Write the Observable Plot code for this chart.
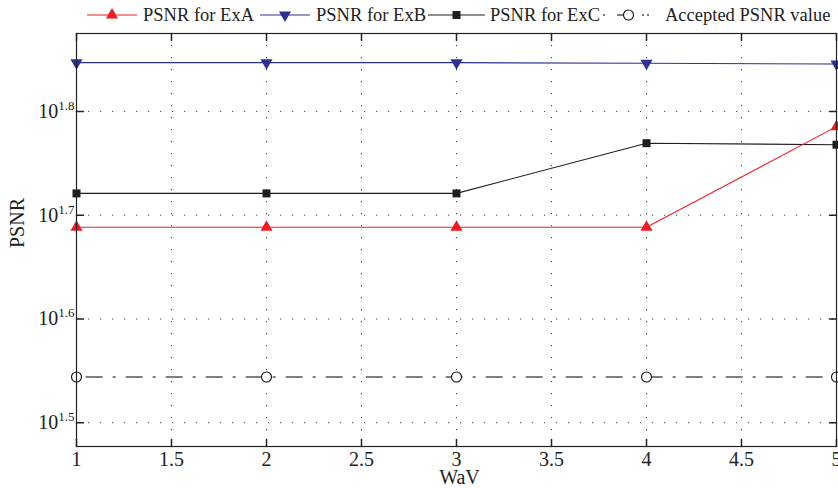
<!DOCTYPE html>
<html><head><meta charset="utf-8">
<script src="https://cdn.jsdelivr.net/npm/d3@7"></script>
<script src="https://cdn.jsdelivr.net/npm/@observablehq/plot@0.6"></script>
<style>
body{margin:0;background:#fff;}
#wrap{position:relative;width:838px;height:488px;font-family:"Liberation Serif","Times New Roman",serif;}
</style></head><body><div id="wrap"></div>
<script>
// ---- data ----
const wav = [1, 2, 3, 4, 5];
const psnrExA = [48.8, 48.8, 48.8, 48.8, 61.0];
const psnrExB = [70.3, 70.3, 70.3, 70.2, 70.1];
const psnrExC = [52.6, 52.6, 52.6, 58.8, 58.6];
const acceptedPSNR = [35, 35, 35, 35, 35];
const seriesNames = ["PSNR for ExA", "PSNR for ExB", "PSNR for ExC", "Accepted PSNR value"];
const xTicks = [1, 1.5, 2, 2.5, 3, 3.5, 4, 4.5, 5];
const yTickExponents = [1.5, 1.6, 1.7, 1.8];
const yDomain = [30, 75];
const xLabel = "WaV";
const yLabel = "PSNR";

// ---- build ----
const yTicks = yTickExponents.map(e => Math.pow(10, e));
const rows = arr => wav.map((w, i) => ({w, v: arr[i]}));
const tickShape = {draw(ctx, l) { ctx.moveTo(0, 0); ctx.lineTo(0, -l); }};
const red = "#ed1c24", blue = "#2e3192", blk = "#1e1e1e", gry = "#555";
const gridStyle = {stroke: "#000", strokeOpacity: 0.75, strokeDasharray: "1.2,10.8", strokeWidth: 1};

const plot = Plot.plot({
  width: 838, height: 488,
  marginLeft: 76, marginRight: 2, marginTop: 33, marginBottom: 42,
  style: {fontFamily: "'Liberation Serif','Times New Roman',serif", fontSize: "20px", color: "#222", background: "#fff"},
  x: {domain: [1, 5], label: null},
  y: {type: "log", domain: yDomain, label: null},
  marks: [
    Plot.gridX(xTicks.slice(1, -1), gridStyle),
    Plot.gridY(yTicks, gridStyle),
    Plot.vector(xTicks, {x: d => d, frameAnchor: "bottom", length: 7, rotate: 0, anchor: "start", shape: tickShape, stroke: "#222"}),
    Plot.vector(xTicks, {x: d => d, frameAnchor: "top", length: 7, rotate: 180, anchor: "start", shape: tickShape, stroke: "#222"}),
    Plot.vector(yTicks, {y: d => d, frameAnchor: "left", length: 7, rotate: 90, anchor: "start", shape: tickShape, stroke: "#222"}),
    Plot.vector(yTicks, {y: d => d, frameAnchor: "right", length: 7, rotate: -90, anchor: "start", shape: tickShape, stroke: "#222"}),
    Plot.axisX(xTicks, {tickSize: 0, tickPadding: 5, fontSize: 20, tickFormat: d => String(d)}),
    Plot.axisY(yTicks, {tickSize: 0, tickPadding: 2, fontSize: 20, tickFormat: d => Math.log10(d).toFixed(1)}),
    Plot.text([xLabel], {frameAnchor: "bottom", dx: 3, dy: 37, fontSize: 20, fill: "#222"}),
    Plot.text([yLabel], {frameAnchor: "left", dx: -58.5, dy: 8, rotate: -90, fontSize: 20, fill: "#222"}),
    Plot.line(rows(acceptedPSNR), {x: "w", y: "v", stroke: gry, strokeWidth: 1.4, strokeDasharray: "16,11,2,11", strokeDashoffset: 30.3}),
    Plot.line(rows(psnrExC), {x: "w", y: "v", stroke: blk, strokeWidth: 1.1}),
    Plot.line(rows(psnrExA), {x: "w", y: "v", stroke: red, strokeWidth: 1.1}),
    Plot.line(rows(psnrExB), {x: "w", y: "v", stroke: blue, strokeWidth: 1.1}),
    Plot.dot(rows(acceptedPSNR), {x: "w", y: "v", r: 5, stroke: "#111", fill: "#fff", strokeWidth: 1.1}),
    Plot.dot(rows(psnrExC), {x: "w", y: "v", r: 4.5, symbol: "square", fill: blk, stroke: "none"}),
    Plot.dot(rows(psnrExA), {x: "w", y: "v", r: 4.5, symbol: "triangle", fill: red, stroke: "none"}),
    Plot.dot(rows(psnrExB), {x: "w", y: "v", r: 4.5, symbol: "triangle", rotate: 180, fill: blue, stroke: "none"}),
    Plot.frame({stroke: "#222", strokeWidth: 1.2})
  ]
});

// superscript y tick labels: 10^e
d3.select(plot).selectAll('g[aria-label="y-axis tick label"] text').each(function() {
  const e = this.textContent;
  const t = d3.select(this);
  t.text(null);
  t.append("tspan").text("10");
  t.append("tspan").attr("font-size", 13).attr("dy", -8).text(e);
});

const wrap = document.getElementById("wrap");
wrap.appendChild(plot);

// ---- legend (above plot, in the top margin) ----
const leg = d3.select(wrap).append("svg")
  .attr("width", 838).attr("height", 30)
  .style("position", "absolute").style("left", "0px").style("top", "0px")
  .style("font-family", "'Liberation Serif','Times New Roman',serif");
const legendItems = [
  {name: seriesNames[0], x0: 87, x1: 137, tx: 143, color: red, kind: "up"},
  {name: seriesNames[1], x0: 260, x1: 310, tx: 316, color: blue, kind: "down"},
  {name: seriesNames[2], x0: 428, x1: 485, tx: 490, color: blk, kind: "square"},
  {name: seriesNames[3], x0: 603, x1: 660, tx: 665, color: gry, kind: "circle"}
];
const ly = 15;
for (const it of legendItems) {
  const g = leg.append("g");
  const cx = (it.x0 + it.x1) / 2;
  const ln = g.append("line").attr("x1", it.x0).attr("x2", it.x1).attr("y1", ly).attr("y2", ly)
    .attr("stroke", it.color).attr("stroke-width", 1.1);
  if (it.kind === "circle") {
    ln.attr("stroke-dasharray", "2,12,14,11,2,3,2,20").attr("stroke-width", 1.3);
    g.append("circle").attr("cx", cx - 3).attr("cy", ly).attr("r", 5).attr("fill", "#fff").attr("stroke", "#111").attr("stroke-width", 1.1);
  } else if (it.kind === "square") {
    g.append("rect").attr("x", cx - 4).attr("y", ly - 4).attr("width", 8).attr("height", 8).attr("fill", it.color);
  } else {
    g.append("path").attr("d", d3.symbol(d3.symbolTriangle, Math.PI * 4.5 * 4.5)())
      .attr("transform", `translate(${cx},${ly})${it.kind === "down" ? " rotate(180)" : ""}`)
      .attr("fill", it.color);
  }
  g.append("text").attr("x", it.tx).attr("y", 21).attr("font-size", 18.5).attr("fill", "#222").text(it.name);
}
</script>
</body></html>
